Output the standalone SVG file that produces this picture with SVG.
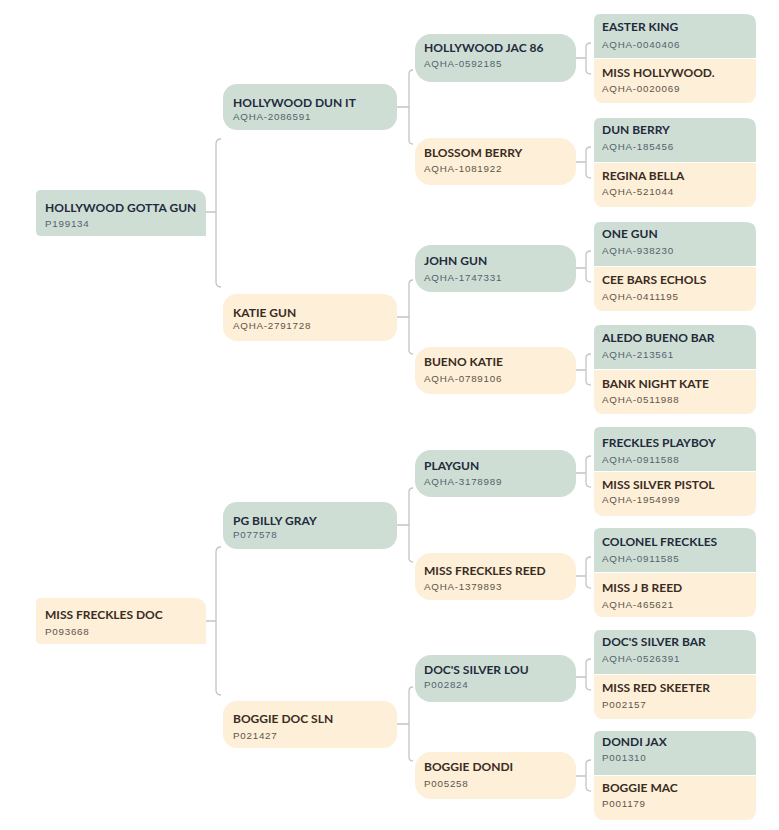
<svg xmlns="http://www.w3.org/2000/svg" width="779" height="830" viewBox="0 0 779 830">
<defs>
<style>
.bg{fill:#ffffff}
.g{fill:#cfded5}
.p{fill:#fdefd8}
.n{font-family:Lato,"Liberation Sans",sans-serif;font-weight:700;font-size:12px}
.i{font-family:"Liberation Sans",Arial,sans-serif;font-size:9.8px;letter-spacing:0.75px}
.gn{fill:#1f2b3c}
.pn{fill:#3a2c1f}
.gi{fill:#53616c}
.pi{fill:#60544a}
.c{fill:none;stroke:#c4c4c4;stroke-width:1.3}
</style>
</defs>
<rect class="bg" x="0" y="0" width="779" height="830"/>

<g id="connectors">
<path class="c" d="M206,212 H216 M221,139 Q216,139 216,144 V282 Q216,287 221,287"/>
<path class="c" d="M206,621 H216 M221,547 Q216,547 216,552 V690 Q216,695 221,695"/>
<path class="c" d="M397,107 H409 M413,70 Q409,70 409,74 V140 Q409,144 413,144"/>
<path class="c" d="M397,317 H409 M413,280 Q409,280 409,284 V350 Q409,354 413,354"/>
<path class="c" d="M397,525 H409 M413,488 Q409,488 409,492 V558 Q409,562 413,562"/>
<path class="c" d="M397,724 H409 M413,687 Q409,687 409,691 V757 Q409,761 413,761"/>
<path class="c" d="M576,58 H586 M591,43 Q586,43 586,47 V70 Q586,74 591,74"/>
<path class="c" d="M576,162 H586 M591,147 Q586,147 586,151 V174 Q586,178 591,178"/>
<path class="c" d="M576,268 H586 M591,251 Q586,251 586,255 V278 Q586,282 591,282"/>
<path class="c" d="M576,370 H586 M591,354 Q586,354 586,358 V381 Q586,385 591,385"/>
<path class="c" d="M576,473 H586 M591,456 Q586,456 586,460 V483 Q586,487 591,487"/>
<path class="c" d="M576,576 H586 M591,557 Q586,557 586,561 V584 Q586,588 591,588"/>
<path class="c" d="M576,677 H586 M591,659 Q586,659 586,663 V686 Q586,690 591,690"/>
<path class="c" d="M576,776 H586 M591,760 Q586,760 586,764 V787 Q586,791 591,791"/>
</g>

<!-- Generation 1 -->
<g id="n-hollywood-gotta-gun">
<path class="g" d="M41,190 H194 Q206,190 206,202 V236 H41 Q36,236 36,231 V195 Q36,190 41,190 Z"/>
<text class="n gn" x="45" y="212">HOLLYWOOD GOTTA GUN</text>
<text class="i gi" x="45" y="227">P199134</text>
</g>
<g id="n-miss-freckles-doc">
<path class="p" d="M41,598 H194 Q206,598 206,610 V644 H41 Q36,644 36,639 V603 Q36,598 41,598 Z"/>
<text class="n pn" x="45" y="619">MISS FRECKLES DOC</text>
<text class="i pi" x="45" y="635">P093668</text>
</g>

<!-- Generation 2 -->
<g id="n-hollywood-dun-it">
<rect class="g" x="223" y="84" width="174" height="46" rx="14"/>
<text class="n gn" x="233" y="107">HOLLYWOOD DUN IT</text>
<text class="i gi" x="233" y="120">AQHA-2086591</text>
</g>
<g id="n-katie-gun">
<rect class="p" x="223" y="294" width="174" height="47" rx="14"/>
<text class="n pn" x="233" y="317">KATIE GUN</text>
<text class="i pi" x="233" y="329">AQHA-2791728</text>
</g>
<g id="n-pg-billy-gray">
<rect class="g" x="223" y="502" width="174" height="47" rx="14"/>
<text class="n gn" x="233" y="525">PG BILLY GRAY</text>
<text class="i gi" x="233" y="538">P077578</text>
</g>
<g id="n-boggie-doc-sln">
<rect class="p" x="223" y="701" width="174" height="47" rx="14"/>
<text class="n pn" x="233" y="723">BOGGIE DOC SLN</text>
<text class="i pi" x="233" y="739">P021427</text>
</g>

<!-- Generation 3 -->
<g id="n-hollywood-jac-86">
<rect class="g" x="415" y="34" width="161" height="48" rx="16"/>
<text class="n gn" x="424" y="52">HOLLYWOOD JAC 86</text>
<text class="i gi" x="424" y="67">AQHA-0592185</text>
</g>
<g id="n-blossom-berry">
<rect class="p" x="415" y="138" width="161" height="47" rx="16"/>
<text class="n pn" x="424" y="157">BLOSSOM BERRY</text>
<text class="i pi" x="424" y="172">AQHA-1081922</text>
</g>
<g id="n-john-gun">
<rect class="g" x="415" y="245" width="161" height="47" rx="16"/>
<text class="n gn" x="424" y="265">JOHN GUN</text>
<text class="i gi" x="424" y="281">AQHA-1747331</text>
</g>
<g id="n-bueno-katie">
<rect class="p" x="415" y="347" width="161" height="47" rx="16"/>
<text class="n pn" x="424" y="366">BUENO KATIE</text>
<text class="i pi" x="424" y="382">AQHA-0789106</text>
</g>
<g id="n-playgun">
<rect class="g" x="415" y="450" width="161" height="47" rx="16"/>
<text class="n gn" x="424" y="470">PLAYGUN</text>
<text class="i gi" x="424" y="485">AQHA-3178989</text>
</g>
<g id="n-miss-freckles-reed">
<rect class="p" x="415" y="553" width="161" height="47" rx="16"/>
<text class="n pn" x="424" y="575">MISS FRECKLES REED</text>
<text class="i pi" x="424" y="590">AQHA-1379893</text>
</g>
<g id="n-docs-silver-lou">
<rect class="g" x="415" y="655" width="161" height="47" rx="16"/>
<text class="n gn" x="424" y="674">DOC'S SILVER LOU</text>
<text class="i gi" x="424" y="688">P002824</text>
</g>
<g id="n-boggie-dondi">
<rect class="p" x="415" y="752" width="161" height="47" rx="16"/>
<text class="n pn" x="424" y="771">BOGGIE DONDI</text>
<text class="i pi" x="424" y="787">P005258</text>
</g>

<!-- Generation 4 -->
<g id="n-easter-king-miss-hollywood" transform="translate(0,14)">
<path class="g" d="M600,0 H746 Q756,0 756,10 V44 H594 V6 Q594,0 600,0 Z"/>
<path class="p" d="M594,45 H756 V79 Q756,89 746,89 H604 Q594,89 594,79 Z"/>
<text class="n gn" x="602" y="17">EASTER KING</text>
<text class="i gi" x="602" y="34">AQHA-0040406</text>
<text class="n pn" x="602" y="63">MISS HOLLYWOOD.</text>
<text class="i pi" x="602" y="78">AQHA-0020069</text>
</g>
<g id="n-dun-berry-regina-bella" transform="translate(0,118)">
<path class="g" d="M600,0 H746 Q756,0 756,10 V44 H594 V6 Q594,0 600,0 Z"/>
<path class="p" d="M594,45 H756 V79 Q756,89 746,89 H604 Q594,89 594,79 Z"/>
<text class="n gn" x="602" y="16">DUN BERRY</text>
<text class="i gi" x="602" y="32">AQHA-185456</text>
<text class="n pn" x="602" y="62">REGINA BELLA</text>
<text class="i pi" x="602" y="77">AQHA-521044</text>
</g>
<g id="n-one-gun-cee-bars-echols" transform="translate(0,222)">
<path class="g" d="M600,0 H746 Q756,0 756,10 V44 H594 V6 Q594,0 600,0 Z"/>
<path class="p" d="M594,45 H756 V79 Q756,89 746,89 H604 Q594,89 594,79 Z"/>
<text class="n gn" x="602" y="16">ONE GUN</text>
<text class="i gi" x="602" y="32">AQHA-938230</text>
<text class="n pn" x="602" y="62">CEE BARS ECHOLS</text>
<text class="i pi" x="602" y="78">AQHA-0411195</text>
</g>
<g id="n-aledo-bueno-bar-bank-night-kate" transform="translate(0,325)">
<path class="g" d="M600,0 H746 Q756,0 756,10 V44 H594 V6 Q594,0 600,0 Z"/>
<path class="p" d="M594,45 H756 V79 Q756,89 746,89 H604 Q594,89 594,79 Z"/>
<text class="n gn" x="602" y="17">ALEDO BUENO BAR</text>
<text class="i gi" x="602" y="33">AQHA-213561</text>
<text class="n pn" x="602" y="63">BANK NIGHT KATE</text>
<text class="i pi" x="602" y="78">AQHA-0511988</text>
</g>
<g id="n-freckles-playboy-miss-silver-pistol" transform="translate(0,427)">
<path class="g" d="M600,0 H746 Q756,0 756,10 V44 H594 V6 Q594,0 600,0 Z"/>
<path class="p" d="M594,45 H756 V79 Q756,89 746,89 H604 Q594,89 594,79 Z"/>
<text class="n gn" x="602" y="20">FRECKLES PLAYBOY</text>
<text class="i gi" x="602" y="36">AQHA-0911588</text>
<text class="n pn" x="602" y="62">MISS SILVER PISTOL</text>
<text class="i pi" x="602" y="76">AQHA-1954999</text>
</g>
<g id="n-colonel-freckles-miss-j-b-reed" transform="translate(0,528)">
<path class="g" d="M600,0 H746 Q756,0 756,10 V44 H594 V6 Q594,0 600,0 Z"/>
<path class="p" d="M594,45 H756 V79 Q756,89 746,89 H604 Q594,89 594,79 Z"/>
<text class="n gn" x="602" y="18">COLONEL FRECKLES</text>
<text class="i gi" x="602" y="34">AQHA-0911585</text>
<text class="n pn" x="602" y="64">MISS J B REED</text>
<text class="i pi" x="602" y="80">AQHA-465621</text>
</g>
<g id="n-docs-silver-bar-miss-red-skeeter" transform="translate(0,630)">
<path class="g" d="M600,0 H746 Q756,0 756,10 V44 H594 V6 Q594,0 600,0 Z"/>
<path class="p" d="M594,45 H756 V79 Q756,89 746,89 H604 Q594,89 594,79 Z"/>
<text class="n gn" x="602" y="16">DOC'S SILVER BAR</text>
<text class="i gi" x="602" y="32">AQHA-0526391</text>
<text class="n pn" x="602" y="62">MISS RED SKEETER</text>
<text class="i pi" x="602" y="78">P002157</text>
</g>
<g id="n-dondi-jax-boggie-mac" transform="translate(0,731)">
<path class="g" d="M600,0 H746 Q756,0 756,10 V44 H594 V6 Q594,0 600,0 Z"/>
<path class="p" d="M594,45 H756 V79 Q756,89 746,89 H604 Q594,89 594,79 Z"/>
<text class="n gn" x="602" y="15">DONDI JAX</text>
<text class="i gi" x="602" y="30">P001310</text>
<text class="n pn" x="602" y="61">BOGGIE MAC</text>
<text class="i pi" x="602" y="76">P001179</text>
</g>
</svg>
